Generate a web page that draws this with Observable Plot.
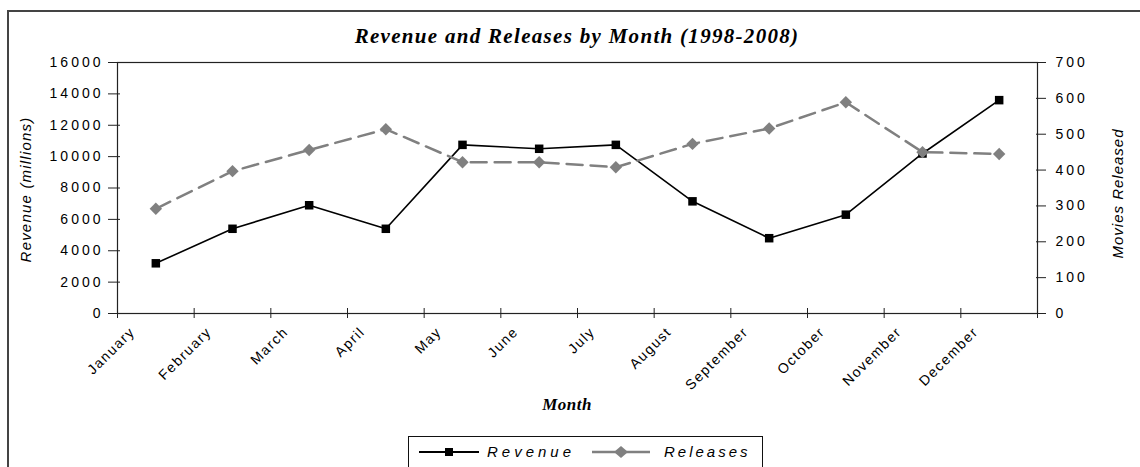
<!DOCTYPE html>
<html>
<head>
<meta charset="utf-8">
<script src="https://cdn.jsdelivr.net/npm/d3@7"></script>
<script src="https://cdn.jsdelivr.net/npm/@observablehq/plot@0.6"></script>
<style>
  html, body { margin: 0; padding: 0; background: #fff; }
  #wrap { position: relative; width: 1140px; height: 467px; overflow: hidden; font-family: "Liberation Sans", Arial, sans-serif; }
  #border { position: absolute; left: 7px; top: 10px; right: -10px; bottom: -10px; border-left: 2px solid #444; border-top: 2px solid #444; }
  #title { position: absolute; left: 117px; width: 920px; top: 24px; text-align: center; font-family: "Liberation Serif", "Times New Roman", serif; font-weight: bold; font-style: italic; font-size: 21px; letter-spacing: 1.3px; }
  #xlabel { position: absolute; left: 117px; width: 900px; top: 395px; text-align: center; font-family: "Liberation Serif", "Times New Roman", serif; font-weight: bold; font-style: italic; font-size: 17px; letter-spacing: 0.5px; }
  #legend { position: absolute; left: 408px; top: 436px; width: 353px; height: 30px; border: 1.5px solid #111; background: #fff; }
  #legend svg { position: absolute; left: 0; top: 0; }
  .lt { position: absolute; top: 6px; font-style: italic; font-size: 15px; }
  #plot { position: absolute; left: 0; top: 0; }
</style>
</head>
<body>
<div id="wrap">
  <div id="plot"></div>
  <div id="border"></div>
  <div id="title">Revenue and Releases by Month (1998-2008)</div>
  <div id="xlabel">Month</div>
  <div id="legend">
    <svg width="353" height="30">
      <line x1="10" y1="15" x2="70" y2="15" stroke="#000" stroke-width="2"/>
      <rect x="36" y="11" width="8" height="8" fill="#000"/>
      <line x1="183" y1="15" x2="241" y2="15" stroke="#808080" stroke-width="2.5"/>
      <path d="M212,9 L219,15 L212,21 L205,15 Z" fill="#808080"/>
    </svg>
    <span class="lt" style="left:78px; letter-spacing:4px">Revenue</span>
    <span class="lt" style="left:255px; letter-spacing:3px">Releases</span>
  </div>
</div>
<script>
const months = ["January","February","March","April","May","June","July","August","September","October","November","December"];
const revenue = [3200, 5400, 6900, 5400, 10750, 10500, 10750, 7150, 4800, 6300, 10200, 13600];
const releases = [292, 397, 456, 514, 422, 422, 408, 473, 516, 589, 450, 445];
const revenueTicks = [0, 2000, 4000, 6000, 8000, 10000, 12000, 14000, 16000];
const releaseTicks = [0, 100, 200, 300, 400, 500, 600, 700];
const revenueMax = 16000;
const releaseMax = 700;

const ratio = revenueMax / releaseMax;
const data = months.map((m, i) => ({i, month: m, revenue: revenue[i], releases: releases[i]}));
const boundaries = d3.range(months.length + 1);
const labelData = months.map((m, i) => ({i, month: m}));

const chart = Plot.plot({
  width: 1140,
  height: 467,
  marginTop: 62,
  marginBottom: 154,
  marginLeft: 117,
  marginRight: 103,
  style: {fontFamily: "'Liberation Sans', Arial, sans-serif", fontSize: "14px", color: "#000", background: "transparent"},
  x: {domain: [0, months.length]},
  y: {domain: [0, revenueMax]},
  marks: [
    Plot.frame({stroke: "#222", strokeWidth: 1.2}),
    Plot.axisY(revenueTicks, {anchor: "left", tickSize: 12, dx: 3, tickPadding: 5, label: null, stroke: "#222", tickFormat: d => String(d)}),
    Plot.axisY(releaseTicks.map(v => v * ratio), {anchor: "right", tickSize: 10, dx: -2, tickPadding: 10, label: null, tickFormat: v => String(Math.round(v / ratio)), stroke: "#222"}),
    Plot.axisX(boundaries, {anchor: "bottom", tickSize: 10, dy: -5, tickFormat: () => "", label: null, stroke: "#222"}),
    Plot.text(labelData, {x: "i", frameAnchor: "bottom", text: "month", rotate: -45, textAnchor: "end", lineAnchor: "middle", dy: 16, dx: 15, fontSize: 14}),
    Plot.line(data, {x: d => d.i + 0.5, y: "revenue", stroke: "#000", strokeWidth: 1.6}),
    Plot.dot(data, {x: d => d.i + 0.5, y: "revenue", symbol: "square", fill: "#000", r: 4.8}),
    Plot.line(data, {x: d => d.i + 0.5, y: d => d.releases * ratio, stroke: "#808080", strokeWidth: 2.5, strokeDasharray: "16,8"}),
    Plot.dot(data, {x: d => d.i + 0.5, y: d => d.releases * ratio, symbol: "diamond2", fill: "#808080", r: 5.6})
  ]
});
document.getElementById("plot").appendChild(chart);

const svg = d3.select(chart);
svg.selectAll('g[aria-label="y-axis tick label"]').attr("letter-spacing", "3px");
svg.selectAll('g[aria-label="text"]').attr("letter-spacing", "1.5px");

// Axis titles inside the svg
svg.append("text")
  .attr("transform", `translate(31,${(62 + 313) / 2 + 2}) rotate(-90)`)
  .attr("text-anchor", "middle")
  .attr("font-style", "italic")
  .attr("font-size", 15)
  .attr("letter-spacing", "1.2px")
  .text("Revenue (millions)");
svg.append("text")
  .attr("transform", `translate(1123,${(62 + 313) / 2 + 6}) rotate(-90)`)
  .attr("text-anchor", "middle")
  .attr("font-style", "italic")
  .attr("font-size", 15)
  .attr("letter-spacing", "1px")
  .text("Movies Released");
</script>
</body>
</html>
